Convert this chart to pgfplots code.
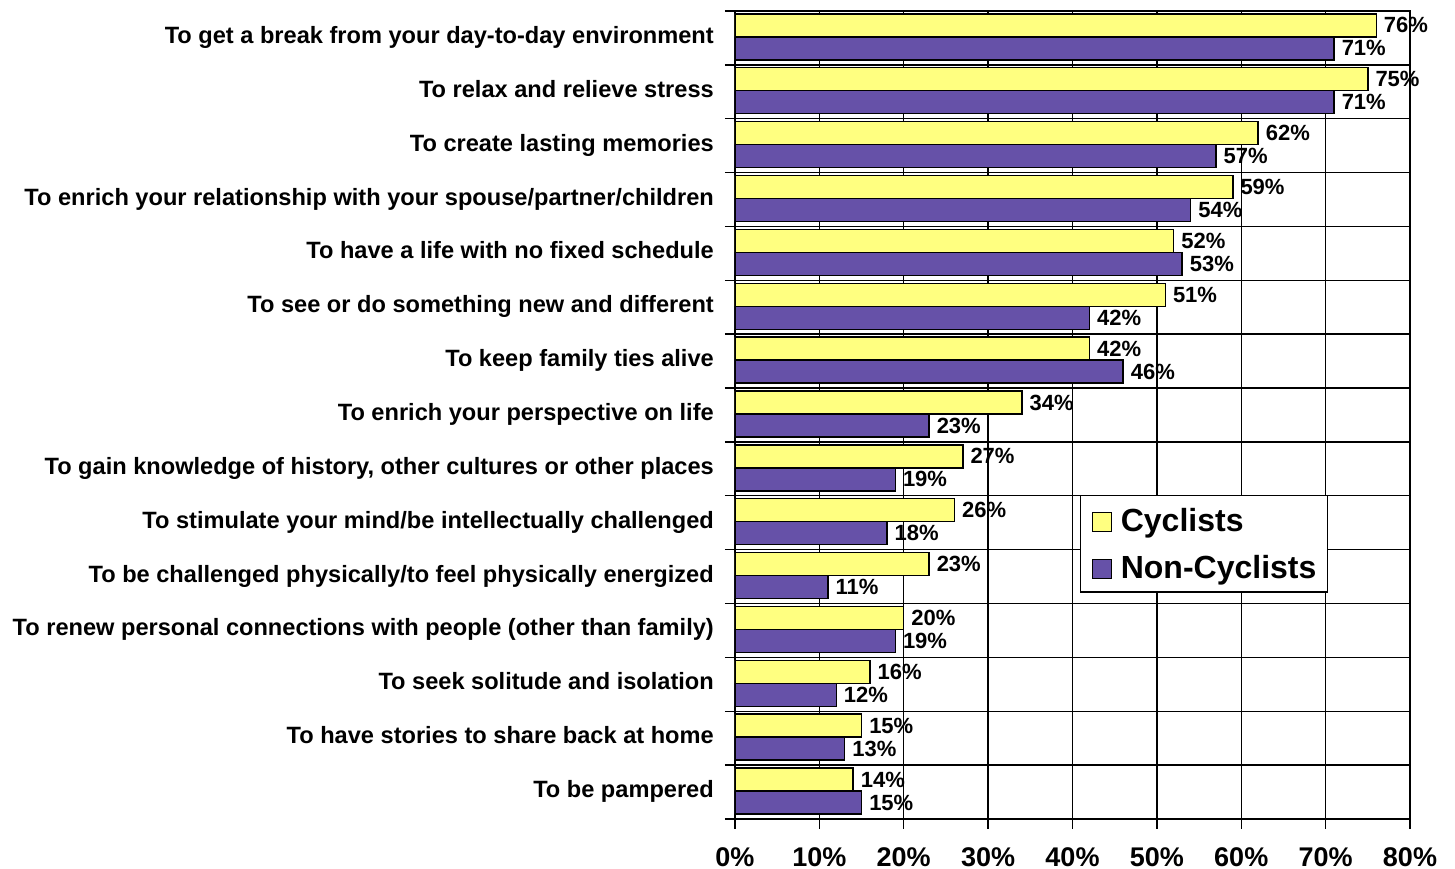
\documentclass[border=0pt]{standalone}
\usepackage{fontspec}
\setmainfont{Liberation Sans}
\usepackage{pgfplots}
\pgfplotsset{compat=1.18}
\definecolor{cyc}{RGB}{255,255,128}
\definecolor{noncyc}{RGB}{102,81,168}
\begin{document}
\begin{tikzpicture}
\begin{axis}[
  scale only axis, width=675pt, height=808pt,
  at={(0,0)}, anchor=south west,
  xmin=0, xmax=80, ymin=-0.5, ymax=14.5,
  xbar, bar width=23pt,
  axis line style={line width=1.4pt, black},
  xtick={0,10,...,80},
  xticklabels={0\%,10\%,20\%,30\%,40\%,50\%,60\%,70\%,80\%},
  xtick pos=left, ytick pos=left,
  tick align=outside, major tick length=10pt,
  tick style={black, line width=1.4pt},
  ytick={-0.5,0.5,...,14.5}, yticklabels={},
  xmajorgrids, ymajorgrids, grid style={black, line width=1.4pt},
  extra y ticks={0,...,14},
  extra y tick labels={{To be pampered},{To have stories to share back at home},{To seek solitude and isolation},{To renew personal connections with people (other than family)},{To be challenged physically/to feel physically energized},{To stimulate your mind/be intellectually challenged},{To gain knowledge of history, other cultures or other places},{To enrich your perspective on life},{To keep family ties alive},{To see or do something new and different},{To have a life with no fixed schedule},{To enrich your relationship with your spouse/partner/children},{To create lasting memories},{To relax and relieve stress},{To get a break from your day-to-day environment}},
  extra y tick style={major tick length=0pt, grid=none, yticklabel style={font=\fontsize{23.6}{27}\selectfont\bfseries, inner sep=0pt, anchor=base east, xshift=-21pt, yshift=-5.5pt}},
  xticklabel style={font=\fontsize{27}{30}\selectfont\bfseries, inner sep=0pt, yshift=-18pt},
  /pgf/number format/assume math mode=true,
  nodes near coords={\pgfmathprintnumber{\pgfplotspointmeta}\%},
  nodes near coords style={font=\fontsize{22}{24}\selectfont\bfseries, anchor=west, inner sep=0pt, xshift=7pt, black},
  point meta=x,
  legend style={at={(0.511,0.401)}, anchor=north west, draw=black, line width=1.4pt,
    font=\fontsize{32}{36}\selectfont\bfseries, inner xsep=11pt, inner ysep=13pt, row sep=24pt, column sep=9pt,
    nodes={inner sep=0pt, text height=23pt, text depth=0pt}},
  legend cell align=left,
  legend image code/.code={\draw[#1, draw=black, line width=1.2pt] (0pt,-11pt) rectangle (19pt,8pt);},
]
\addplot[fill=cyc, draw=black, line width=1.4pt, bar shift=12.5pt] coordinates {
(14,0) (15,1) (16,2) (20,3) (23,4) (26,5) (27,6) (34,7) (42,8) (51,9) (52,10) (59,11) (62,12) (75,13) (76,14)};
\addplot[fill=noncyc, draw=black, line width=1.4pt, bar shift=-10.5pt] coordinates {
(15,0) (13,1) (12,2) (19,3) (11,4) (18,5) (19,6) (23,7) (46,8) (42,9) (53,10) (54,11) (57,12) (71,13) (71,14)};
\legend{Cyclists, Non-Cyclists}
\end{axis}
\path (-735pt,-50pt) rectangle (720pt,819pt);
\end{tikzpicture}
\end{document}
